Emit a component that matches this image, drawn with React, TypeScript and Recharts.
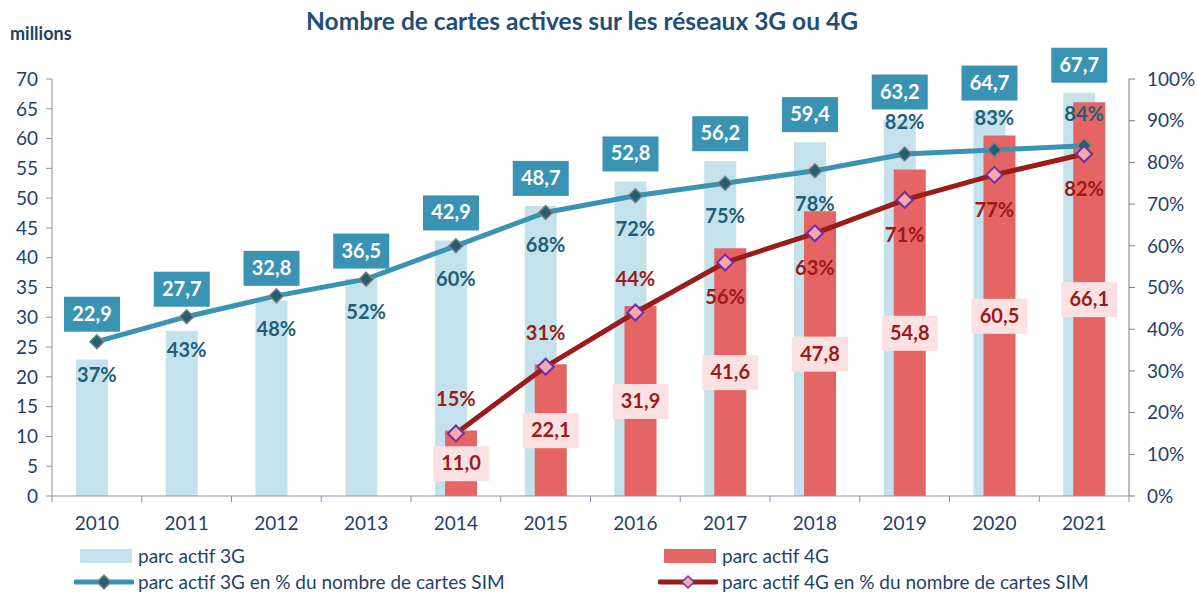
import React from "react";
import {
  ComposedChart,
  Bar,
  Line,
  XAxis,
  YAxis,
  LabelList,
} from "recharts";

const YEARS = ["2010", "2011", "2012", "2013", "2014", "2015", "2016", "2017", "2018", "2019", "2020", "2021"];
const PARC_3G = [22.9, 27.7, 32.8, 36.5, 42.9, 48.7, 52.8, 56.2, 59.4, 63.2, 64.7, 67.7];
const PARC_4G = [null, null, null, null, 11.0, 22.1, 31.9, 41.6, 47.8, 54.8, 60.5, 66.1];
const PCT_3G = [37, 43, 48, 52, 60, 68, 72, 75, 78, 82, 83, 84];
const PCT_4G = [null, null, null, null, 15, 31, 44, 56, 63, 71, 77, 82];
const LEFT_TICKS = [0, 5, 10, 15, 20, 25, 30, 35, 40, 45, 50, 55, 60, 65, 70];
const RIGHT_TICKS = [0, 10, 20, 30, 40, 50, 60, 70, 80, 90, 100];

const data = YEARS.map((year, i) => ({
  year,
  p3g: PARC_3G[i],
  p4g: PARC_4G[i],
  pct3g: PCT_3G[i],
  pct4g: PCT_4G[i],
}));

const W = 1197;
const H = 596;
const LEFT_W = 52;
const RIGHT_W = 68;
const TOP = 79;
const BOTTOM = 100;
const BAND = (W - LEFT_W - RIGHT_W) / YEARS.length;

const FONT = "Lato, 'Open Sans', sans-serif";
const AXIS_TEXT = "#1f3f6b";
const TEAL = "#3a93b3";
const TEAL_DARK = "#215f77";
const RED = "#e56464";
const RED_DARK = "#9b1b1b";
const LIGHT_BLUE = "#c4e2eb";
const PINK_BOX = "#fbe1e1";

const fmt = (v: number) => v.toFixed(1).replace(".", ",");

function Diamond3G(props: any) {
  const { cx, cy } = props;
  if (cx == null || cy == null) return null;
  const r = 7;
  return (
    <polygon
      points={`${cx},${cy - r} ${cx + r},${cy} ${cx},${cy + r} ${cx - r},${cy}`}
      fill={TEAL_DARK}
      stroke="#7f7f7f"
      strokeWidth={1.5}
    />
  );
}

function Diamond4G(props: any) {
  const { cx, cy } = props;
  if (cx == null || cy == null) return null;
  const r = 8;
  return (
    <polygon
      points={`${cx},${cy - r} ${cx + r},${cy} ${cx},${cy + r} ${cx - r},${cy}`}
      fill="#f4aaaa"
      stroke="#7030a0"
      strokeWidth={2}
    />
  );
}

// teal box above the 3G bar (raised above the % marker when that one sits higher)
function Box3G(props: any) {
  const { x, y, width, height, value, index } = props;
  if (value == null) return null;
  const bottom = y + height;
  const scale = height / value; // px per million
  const lineY = bottom - (PCT_3G[index] / 100) * scale * 70;
  const cy = Math.min(y, lineY) - 28;
  const cx = x + width / 2;
  return (
    <g>
      <rect x={cx - 28} y={cy - 17} width={56} height={35} fill={TEAL} />
      <text x={cx} y={cy + 7} textAnchor="middle" fill="#fff" fontSize={20} fontWeight={700} fontFamily={FONT}>
        {fmt(value)}
      </text>
    </g>
  );
}

function Box4G(props: any) {
  const { x, y, width, height, value } = props;
  if (value == null) return null;
  const cx = x + width / 2;
  const cy = y + height / 2;
  return (
    <g>
      <rect x={cx - 28} y={cy - 17} width={56} height={35} fill={PINK_BOX} />
      <text x={cx} y={cy + 7} textAnchor="middle" fill={RED_DARK} fontSize={20} fontWeight={700} fontFamily={FONT}>
        {fmt(value)}
      </text>
    </g>
  );
}

function Pct3GLabel(props: any) {
  const { x, y, value, index } = props;
  if (value == null) return null;
  const dy = index >= 9 ? -32 : 33;
  return (
    <text x={x} y={y + dy + 7} textAnchor="middle" fill={TEAL_DARK} fontSize={20} fontWeight={700} fontFamily={FONT}>
      {value}%
    </text>
  );
}

function Pct4GLabel(props: any) {
  const { x, y, value, index } = props;
  if (value == null) return null;
  const dy = index <= 6 ? -34 : 35;
  return (
    <text x={x} y={y + dy + 7} textAnchor="middle" fill={RED_DARK} fontSize={20} fontWeight={700} fontFamily={FONT}>
      {value}%
    </text>
  );
}

function YearTick(props: any) {
  const { x, y, payload, index } = props;
  return (
    <g>
      <line x1={x - BAND / 2} y1={y} x2={x - BAND / 2} y2={y + 6} stroke="#8e8eb8" strokeWidth={1} />
      {index === YEARS.length - 1 && (
        <line x1={x + BAND / 2} y1={y} x2={x + BAND / 2} y2={y + 6} stroke="#8e8eb8" strokeWidth={1} />
      )}
      <text x={x} y={y + 34} textAnchor="middle" fill={AXIS_TEXT} fontSize={19} fontFamily={FONT}>
        {payload.value}
      </text>
    </g>
  );
}

function LegendItem({ kind, color, label }: { kind: "bar" | "line3" | "line4"; color: string; label: string }) {
  return (
    <div style={{ display: "flex", alignItems: "center", height: 26 }}>
      <svg width={60} height={20} style={{ marginRight: 4 }}>
        {kind === "bar" && <rect x={6} y={3} width={52} height={14} fill={color} />}
        {kind === "line3" && (
          <g>
            <line x1={2} y1={10} x2={58} y2={10} stroke={color} strokeWidth={5} strokeLinecap="round" />
            <Diamond3G cx={30} cy={10} />
          </g>
        )}
        {kind === "line4" && (
          <g>
            <line x1={2} y1={10} x2={58} y2={10} stroke={color} strokeWidth={5} strokeLinecap="round" />
            <polygon points="30,4 36,10 30,16 24,10" fill="#f4aaaa" stroke="#7030a0" strokeWidth={1.5} />
          </g>
        )}
      </svg>
      <span style={{ fontSize: 19, color: AXIS_TEXT, fontFamily: FONT, lineHeight: "20px" }}>{label}</span>
    </div>
  );
}

export default function App() {
  return (
    <div style={{ position: "absolute", left: 0, top: 0, width: W, height: H, background: "#fff", fontFamily: FONT }}>
      <div
        style={{
          position: "absolute",
          left: 0,
          top: 6,
          width: 1164,
          textAlign: "center",
          fontSize: 24.5,
          fontWeight: 700,
          color: "#1f4e79",
        }}
      >
        Nombre de cartes actives sur les réseaux 3G ou 4G
      </div>
      <div style={{ position: "absolute", left: 10, top: 22, fontSize: 18, fontWeight: 700, color: "#1f3f6b" }}>
        millions
      </div>

      <ComposedChart
        width={W}
        height={H}
        data={data}
        margin={{ top: TOP, right: 0, bottom: BOTTOM - 40, left: 0 }}
        barGap={-22}
        barCategoryGap={0}
      >
        <XAxis
          dataKey="year"
          height={40}
          stroke="#8e8eb8"
          tickLine={false}
          tickSize={0}
          tickMargin={0}
          tick={<YearTick />}
          interval={0}
        />
        <YAxis
          yAxisId="left"
          width={LEFT_W}
          domain={[0, 70]}
          ticks={LEFT_TICKS}
          interval={0}
          stroke="#8e8eb8"
          tickSize={6}
          tickMargin={8}
          tick={{ fill: AXIS_TEXT, fontSize: 19, fontFamily: FONT }}
        />
        <YAxis
          yAxisId="right"
          orientation="right"
          width={RIGHT_W}
          domain={[0, 100]}
          ticks={RIGHT_TICKS}
          interval={0}
          stroke="#7f7f7f"
          tickSize={6}
          tickMargin={12}
          tickFormatter={(v: number) => `${v}%`}
          tick={{ fill: AXIS_TEXT, fontSize: 19, fontFamily: FONT, textAnchor: "start" }}
        />
        <Bar yAxisId="left" dataKey="p3g" barSize={32} fill={LIGHT_BLUE} isAnimationActive={false}>
          <LabelList dataKey="p3g" content={<Box3G />} />
        </Bar>
        <Bar yAxisId="left" dataKey="p4g" barSize={32} fill={RED} isAnimationActive={false}>
          <LabelList dataKey="p4g" content={<Box4G />} />
        </Bar>
        <Line
          yAxisId="right"
          dataKey="pct3g"
          stroke={TEAL}
          strokeWidth={5}
          dot={<Diamond3G />}
          activeDot={false}
          isAnimationActive={false}
        >
          <LabelList dataKey="pct3g" content={<Pct3GLabel />} />
        </Line>
        <Line
          yAxisId="right"
          dataKey="pct4g"
          stroke={RED_DARK}
          strokeWidth={5}
          dot={<Diamond4G />}
          activeDot={false}
          connectNulls={false}
          isAnimationActive={false}
        >
          <LabelList dataKey="pct4g" content={<Pct4GLabel />} />
        </Line>
      </ComposedChart>

      <div style={{ position: "absolute", left: 74, top: 543 }}>
        <LegendItem kind="bar" color={LIGHT_BLUE} label="parc actif 3G" />
        <LegendItem kind="line3" color={TEAL} label="parc actif 3G en % du nombre de cartes SIM" />
      </div>
      <div style={{ position: "absolute", left: 658, top: 543 }}>
        <LegendItem kind="bar" color={RED} label="parc actif 4G" />
        <LegendItem kind="line4" color={RED_DARK} label="parc actif 4G en % du nombre de cartes SIM" />
      </div>
    </div>
  );
}
